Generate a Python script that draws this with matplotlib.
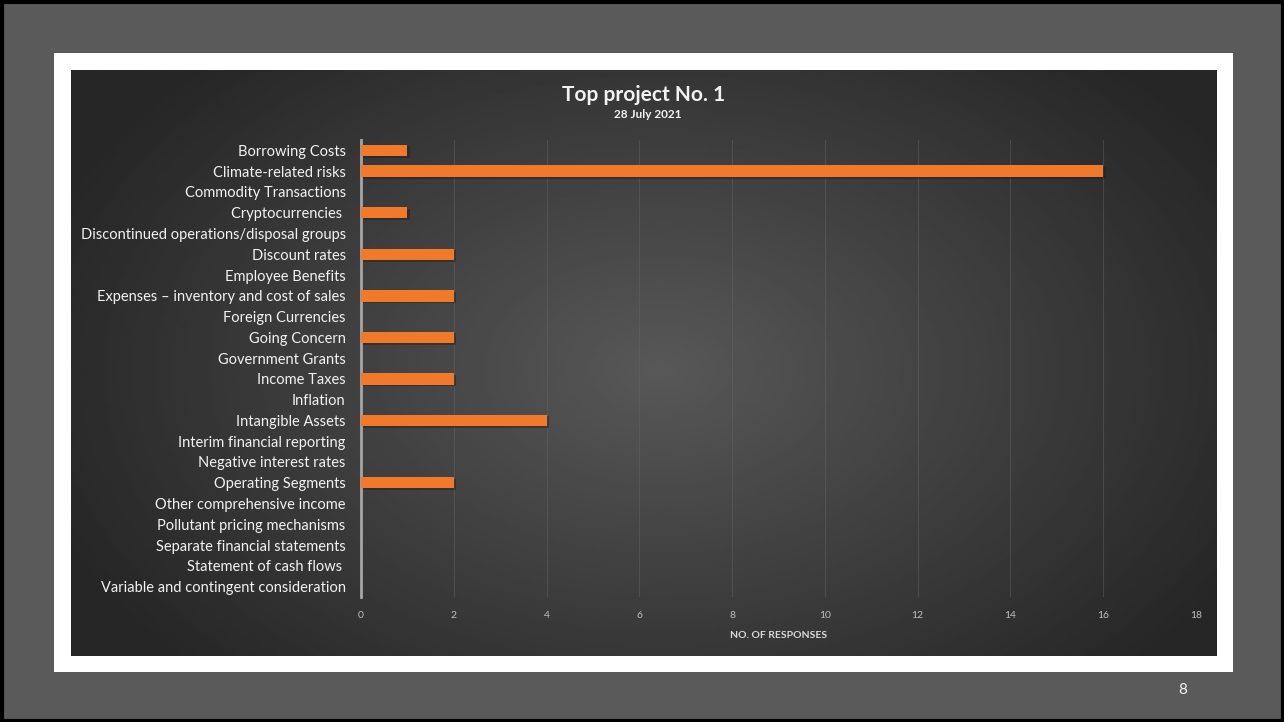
import matplotlib.pyplot as plt
import numpy as np
from matplotlib.patches import Rectangle

topics = [
    "Borrowing Costs",
    "Climate-related risks",
    "Commodity Transactions",
    "Cryptocurrencies ",
    "Discontinued operations/disposal groups",
    "Discount rates",
    "Employee Benefits",
    "Expenses \u2013 inventory and cost of sales",
    "Foreign Currencies",
    "Going Concern",
    "Government Grants",
    "Income Taxes",
    "Inflation",
    "Intangible Assets",
    "Interim financial reporting",
    "Negative interest rates",
    "Operating Segments",
    "Other comprehensive income",
    "Pollutant pricing mechanisms",
    "Separate financial statements",
    "Statement of cash flows ",
    "Variable and contingent consideration",
]
responses = [1, 16, 0, 1, 0, 2, 0, 2, 0, 2, 0, 2, 0, 4, 0, 0, 2, 0, 0, 0, 0, 0]
x_ticks = list(range(0, 19, 2))

W, H = 1284, 722
plt.rcParams['font.family'] = ['Lato', 'DejaVu Sans']

fig = plt.figure(figsize=(W / 100, H / 100), dpi=100)
fig.patch.set_facecolor('#5a5a5a')

# slide border, white frame and dark panel
bg = fig.add_axes([0, 0, 1, 1])
bg.set_xlim(0, W)
bg.set_ylim(H, 0)
bg.axis('off')
bg.add_patch(Rectangle((1.5, 1.5), W - 3, H - 3, fill=False, ec='black', lw=3))
bg.add_patch(Rectangle((54, 53), 1179, 619, fc='white', ec='none'))

px0, py0, px1, py1 = 71, 70, 1217, 656
gx, gy = np.meshgrid(np.linspace(px0, px1, 400), np.linspace(py0, py1, 220))
r = np.sqrt(((gx - 660) / 640) ** 2 + ((gy - 370) / 420) ** 2)
shade = np.clip(0.345 - 0.19 * r, 0.15, 0.35)
bg.imshow(shade, cmap='gray', vmin=0, vmax=1, extent=(px0, px1, py1, py0),
          interpolation='bilinear', aspect='auto', zorder=1)
bg.set_xlim(0, W)
bg.set_ylim(H, 0)
bg.text(1183, 690, "8", color='#f2f2f2', fontsize=11, ha='center', va='center')

# bar chart
ax = fig.add_axes([361 / W, (H - 597) / H, (1196 - 361) / W, (597 - 140) / H])
ax.patch.set_alpha(0)
y = np.arange(len(topics))
ax.barh(y + 0.08, responses, height=0.55, left=0.05, color='#1a1a1a', alpha=0.4, zorder=2)
ax.barh(y, responses, height=0.55, color='#f07a2a', zorder=3)
ax.set_ylim(len(topics) - 0.5, -0.5)
ax.set_xlim(0, 18)
ax.set_yticks(y)
ax.set_yticklabels(topics, fontsize=10.5, color='#f2f2f2')
ax.set_xticks(x_ticks)
ax.set_xticklabels([str(t) for t in x_ticks], fontsize=7.5, color='#bfbfbf')
ax.tick_params(axis='both', length=0)
ax.tick_params(axis='y', pad=11)
ax.tick_params(axis='x', pad=10)
ax.grid(axis='x', color='#6a6a6a', lw=0.8, alpha=0.4, zorder=0)
for side in ['top', 'right', 'bottom']:
    ax.spines[side].set_visible(False)
ax.spines['left'].set_color('#a6a6a6')
ax.spines['left'].set_linewidth(2)
ax.set_xlabel("NO. OF RESPONSES", fontsize=7.5, color='#d9d9d9', fontweight='bold', labelpad=8)

fig.text(644 / W, (H - 95) / H, "Top project No. 1", fontsize=15, fontweight='bold',
         color='#f2f2f2', ha='center', va='center')
fig.text(648 / W, (H - 115) / H, "28 July 2021", fontsize=8.5, fontweight='bold',
         color='#f2f2f2', ha='center', va='center')

fig.savefig('out.png', dpi=100, facecolor=fig.get_facecolor())
